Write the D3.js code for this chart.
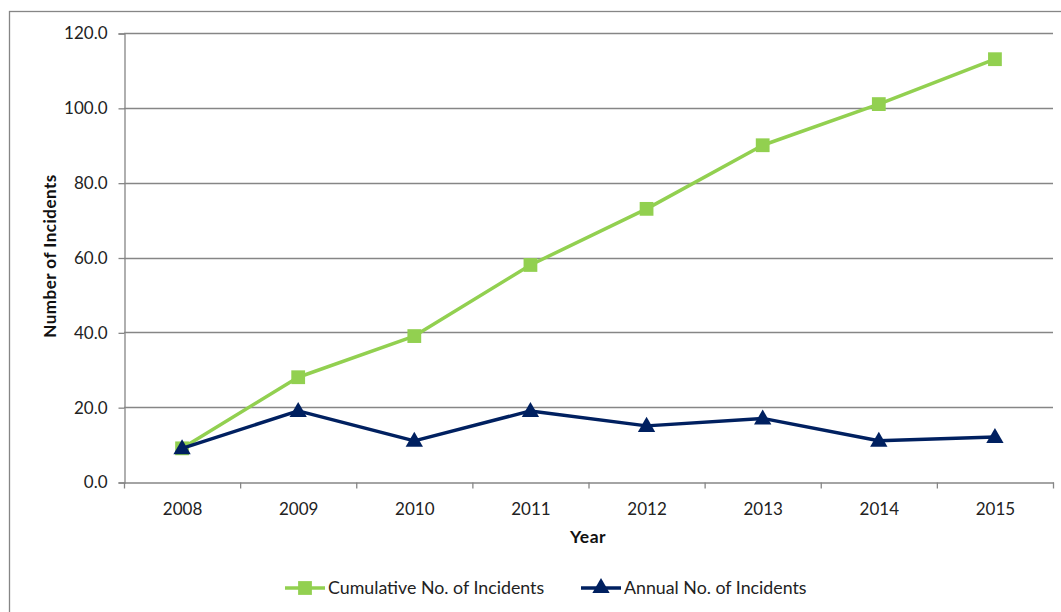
<!DOCTYPE html>
<html>
<head>
<meta charset="utf-8">
<script src="https://cdn.jsdelivr.net/npm/d3@7"></script>
<style>
  html, body { margin: 0; padding: 0; background: #fff; }
  svg { display: block; font-family: Lato, "Open Sans", sans-serif; }
</style>
</head>
<body>
<svg id="chart" width="1061" height="612"></svg>
<script>
// Incident counts per year
const years = ["2008", "2009", "2010", "2011", "2012", "2013", "2014", "2015"];
const annualIncidents = [9, 19, 11, 19, 15, 17, 11, 12];
const cumulativeIncidents = [9, 28, 39, 58, 73, 90, 101, 113];
const yTicks = [0, 20, 40, 60, 80, 100, 120];

const seriesNames = ["Cumulative No. of Incidents", "Annual No. of Incidents"];
const seriesColors = ["#92D050", "#002060"];

const svg = d3.select("#chart");
const plot = { left: 124, right: 1053, top: 33, bottom: 482 };
const gridColor = "#868686";

// Outer chart frame
svg.append("rect")
  .attr("x", 9.5).attr("y", 11.5)
  .attr("width", 1080).attr("height", 640)
  .attr("fill", "none").attr("stroke", gridColor).attr("stroke-width", 1.3);

const x = d3.scaleBand().domain(years).range([plot.left, plot.right]);
const y = d3.scaleLinear().domain([0, 120]).range([plot.bottom, plot.top]);

// Horizontal gridlines
svg.append("g").selectAll("line").data(yTicks.filter(d => d > 0)).join("line")
  .attr("x1", plot.left).attr("x2", plot.right)
  .attr("y1", d => Math.round(y(d)) + 0.5).attr("y2", d => Math.round(y(d)) + 0.5)
  .attr("stroke", gridColor).attr("stroke-width", 1.3);

// Y axis
const yAxis = svg.append("g")
  .attr("transform", `translate(${plot.left + 0.5},0.5)`)
  .call(d3.axisLeft(y).tickValues(yTicks).tickFormat(d3.format(".1f")).tickSize(6).tickPadding(11));
yAxis.select(".domain").attr("stroke", gridColor).attr("stroke-width", 1.3);
yAxis.selectAll(".tick line").attr("stroke", gridColor).attr("stroke-width", 1.3);
yAxis.selectAll("text").attr("font-size", 17).attr("fill", "#222").attr("font-family", "Lato, sans-serif");

// X axis: ticks on category boundaries
const xAxis = svg.append("g")
  .attr("transform", `translate(0.5,${plot.bottom + 0.5})`)
  .call(d3.axisBottom(x).tickSize(0).tickPadding(20));
xAxis.select(".domain").attr("stroke", gridColor).attr("stroke-width", 1.3);
xAxis.selectAll("text").attr("font-size", 17).attr("fill", "#222").attr("font-family", "Lato, sans-serif");
const boundaries = years.map(d => x(d)).concat([x.range()[1]]);
xAxis.append("g").selectAll("line").data(boundaries).join("line")
  .attr("x1", d => d).attr("x2", d => d)
  .attr("y1", 0).attr("y2", 6)
  .attr("stroke", gridColor).attr("stroke-width", 1.3);

// Axis titles
svg.append("text")
  .attr("transform", `translate(56,256) rotate(-90)`)
  .attr("text-anchor", "middle")
  .attr("font-size", 17).attr("font-weight", "bold").attr("fill", "#111")
  .attr("letter-spacing", 0.5)
  .text("Number of Incidents");
svg.append("text")
  .attr("x", 588).attr("y", 543)
  .attr("text-anchor", "middle")
  .attr("font-size", 17.5).attr("font-weight", "bold").attr("fill", "#111")
  .attr("letter-spacing", 0.5)
  .text("Year");

const cx = d => x(d) + x.bandwidth() / 2;
const line = d3.line().x(d => cx(d.year)).y(d => y(d.value));

const seriesData = [cumulativeIncidents, annualIncidents].map(vals =>
  years.map((yr, i) => ({ year: yr, value: vals[i] })));

const squareSym = d3.symbol().type(d3.symbolSquare).size(190);
const triSym = d3.symbol().type(d3.symbolTriangle).size(130);
const symbols = [squareSym, triSym];

seriesData.forEach((data, i) => {
  svg.append("path")
    .datum(data)
    .attr("d", line)
    .attr("fill", "none")
    .attr("stroke", seriesColors[i])
    .attr("stroke-width", 3.5)
    .attr("stroke-linejoin", "round");
  svg.append("g").selectAll("path").data(data).join("path")
    .attr("transform", d => `translate(${cx(d.year)},${y(d.value) + (i === 1 ? 1 : 0)})`)
    .attr("d", symbols[i])
    .attr("fill", seriesColors[i]);
});

// Legend
const legendItems = [
  { x: 285, name: seriesNames[0], color: seriesColors[0], sym: squareSym },
  { x: 581, name: seriesNames[1], color: seriesColors[1], sym: triSym }
];
const lg = svg.append("g");
legendItems.forEach(item => {
  const g = lg.append("g").attr("transform", `translate(${item.x},588)`);
  g.append("line").attr("x1", 0).attr("x2", 40).attr("y1", 0).attr("y2", 0)
    .attr("stroke", item.color).attr("stroke-width", 3.5);
  g.append("path").attr("transform", "translate(20,0)")
    .attr("d", item.sym).attr("fill", item.color);
  g.append("text").attr("x", 43).attr("y", 6)
    .attr("font-size", 17.8).attr("fill", "#222")
    .text(item.name);
});
</script>
</body>
</html>
